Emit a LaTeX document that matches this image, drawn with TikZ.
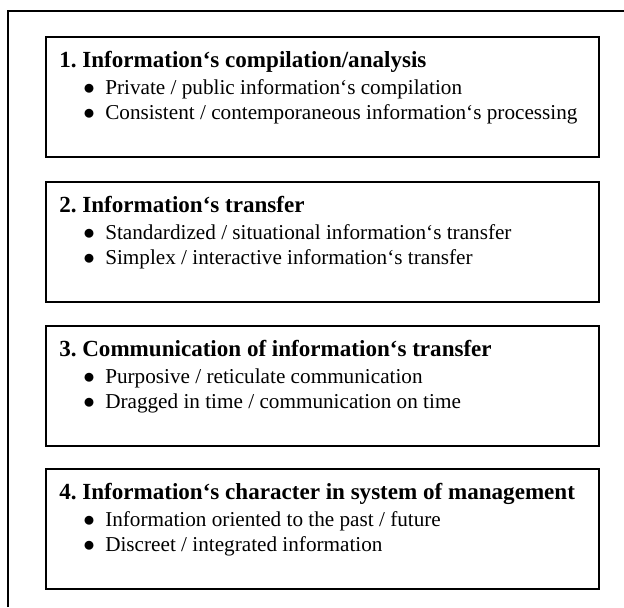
\documentclass[tikz,border=0pt]{standalone}
\usepackage{fontspec}
\setmainfont{Liberation Serif}
\usetikzlibrary{positioning}

\newcommand{\bline}[1]{\hspace*{18pt}\makebox[16.5pt][l]{$\bullet$}#1}
\newcommand{\ghead}[1]{\rule{0pt}{12pt}{\fontsize{17.3}{18.75}\selectfont\bfseries #1}}

\tikzset{
  groupbox/.style={draw, line width=1.2pt, anchor=north west, inner sep=0pt,
    minimum width=414.75pt, minimum height=90pt},
  grouptext/.style={anchor=north west, inner sep=0pt, align=left,
    font=\fontsize{15.9}{18.75}\selectfont\frenchspacing},
}

\begin{document}
\begin{tikzpicture}[x=0.75pt, y=-0.75pt]
  \useasboundingbox (0,0) rectangle (624,607);
  % outer frame, cut by the page edge
  \coordinate (framebl) at (8,607);
  \coordinate (frametl) at (8,11);
  \coordinate (frametr) at (624,11);
  \draw[line width=1.5pt] (framebl) -- (frametl) -- (frametr);

  \node[groupbox] (box1) at (45,36) {};
  \node[groupbox] (box2) at (45,181) {};
  \node[groupbox] (box3) at (45,325) {};
  \node[groupbox] (box4) at (45,468) {};

  \node[grouptext] (txt1) at ([xshift=10.5pt, yshift=-11.6pt]box1.north west)
  {\ghead{1. Information‘s compilation/analysis}\\[1.5pt]
    \bline{Private / public information‘s compilation}\\
    \bline{Consistent / contemporaneous information‘s processing}};
  \node[grouptext] (txt2) at ([xshift=10.5pt, yshift=-11.6pt]box2.north west)
  {\ghead{2. Information‘s transfer}\\[1.5pt]
    \bline{Standardized / situational information‘s transfer}\\
    \bline{Simplex / interactive information‘s transfer}};
  \node[grouptext] (txt3) at ([xshift=10.5pt, yshift=-11.6pt]box3.north west)
  {\ghead{3. Communication of information‘s transfer}\\[1.5pt]
    \bline{Purposive / reticulate communication}\\
    \bline{Dragged in time / communication on time}};
  \node[grouptext] (txt4) at ([xshift=10.5pt, yshift=-11.6pt]box4.north west)
  {\ghead{4. Information‘s character in system of management}\\[1.5pt]
    \bline{Information oriented to the past / future}\\
    \bline{Discreet / integrated information}};
\end{tikzpicture}
\end{document}
